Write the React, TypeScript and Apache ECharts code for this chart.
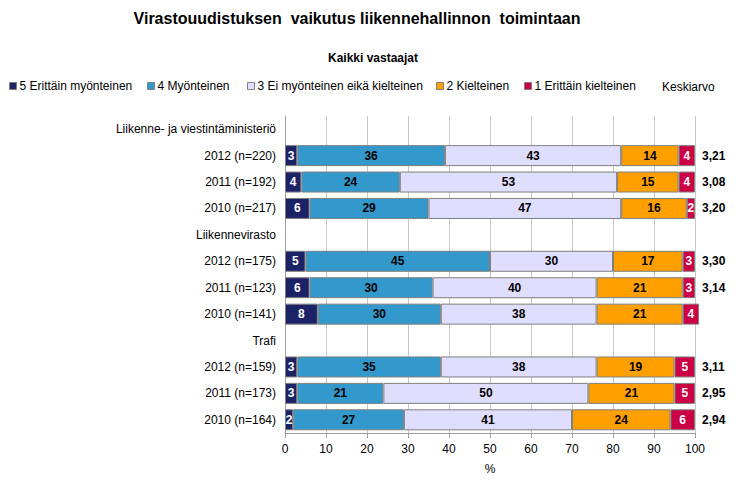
import React, { useEffect, useRef } from "react";
import * as echarts from "echarts";

const categories = [
  "Liikenne- ja viestintäministeriö",
  "2012 (n=220)",
  "2011 (n=192)",
  "2010 (n=217)",
  "Liikennevirasto",
  "2012 (n=175)",
  "2011 (n=123)",
  "2010 (n=141)",
  "Trafi",
  "2012 (n=159)",
  "2011 (n=173)",
  "2010 (n=164)",
];

const seriesNames = [
  "5 Erittäin myönteinen",
  "4 Myönteinen",
  "3 Ei myönteinen eikä kielteinen",
  "2 Kielteinen",
  "1 Erittäin kielteinen",
];

const v5 = [null, 3, 4, 6, null, 5, 6, 8, null, 3, 3, 2];
const v4 = [null, 36, 24, 29, null, 45, 30, 30, null, 35, 21, 27];
const v3 = [null, 43, 53, 47, null, 30, 40, 38, null, 38, 50, 41];
const v2 = [null, 14, 15, 16, null, 17, 21, 21, null, 19, 21, 24];
const v1 = [null, 4, 4, 2, null, 3, 3, 4, null, 5, 5, 6];

const means = ["", "3,21", "3,08", "3,20", "", "3,30", "3,14", "", "", "3,11", "2,95", "2,94"];

const xTicks = [0, 10, 20, 30, 40, 50, 60, 70, 80, 90, 100];

const colors = ["#1c2266", "#3399cc", "#e0deff", "#ffa000", "#cc0044"];
const labelColors = ["#ffffff", "#000000", "#000000", "#000000", "#ffffff"];
const legendLefts = [9, 147, 247, 436, 524];

const FONT = "'Liberation Sans', Arial, sans-serif";

export default function App() {
  const ref = useRef<HTMLDivElement>(null);
  useEffect(() => {
    if (!ref.current) return;
    const chart = echarts.init(ref.current, undefined, { renderer: "svg" });
    const values = [v5, v4, v3, v2, v1];
    chart.setOption({
      animation: false,
      textStyle: { fontFamily: FONT },
      graphic: [
        {
          type: "text",
          x: 357,
          y: 18,
          style: {
            text: "Virastouudistuksen  vaikutus liikennehallinnon  toimintaan",
            font: "bold 16px " + FONT,
            fill: "#000",
            textAlign: "center",
            textVerticalAlign: "middle",
          },
        },
        {
          type: "text",
          x: 373,
          y: 58,
          style: {
            text: "Kaikki vastaajat",
            font: "bold 12px " + FONT,
            fill: "#000",
            textAlign: "center",
            textVerticalAlign: "middle",
          },
        },
        {
          type: "text",
          x: 662,
          y: 87,
          style: {
            text: "Keskiarvo",
            font: "12px " + FONT,
            fill: "#000",
            textAlign: "left",
            textVerticalAlign: "middle",
          },
        },
      ],
      legend: seriesNames.map((name, i) => ({
        left: legendLefts[i],
        top: 80,
        padding: 0,
        itemWidth: 7,
        itemHeight: 7,
        icon: "rect",
        itemStyle: { borderColor: "#808080", borderWidth: 1 },
        textStyle: { fontSize: 12, color: "#000", fontFamily: FONT, padding: [0, 0, 0, -2] },
        data: [name],
      })),
      grid: { left: 285, right: 43, top: 116, bottom: 50, containLabel: false },
      xAxis: {
        type: "value",
        min: 0,
        max: 100,
        interval: 10,
        name: "%",
        nameLocation: "middle",
        nameGap: 30,
        nameTextStyle: { fontSize: 12, color: "#000", fontFamily: FONT },
        axisLine: { show: true, lineStyle: { color: "#a0a0a0" } },
        axisTick: { show: true, length: 5, lineStyle: { color: "#a0a0a0" } },
        axisLabel: {
          fontSize: 12,
          color: "#000",
          margin: 10,
          formatter: (v: number) => (xTicks.includes(v) ? String(v) : ""),
        },
        splitLine: { show: true, lineStyle: { color: "#c8c8c8", width: 1 } },
      },
      yAxis: [
        {
          type: "category",
          inverse: true,
          data: categories,
          axisLine: { show: true, lineStyle: { color: "#a0a0a0" } },
          axisTick: { show: false },
          axisLabel: { fontSize: 12, color: "#000", margin: 9 },
        },
        {
          type: "category",
          inverse: true,
          position: "right",
          data: categories,
          axisLine: { show: false },
          axisTick: { show: false },
          axisLabel: {
            fontSize: 12,
            color: "#000",
            fontWeight: "bold",
            margin: 7,
            formatter: (_v: string, i: number) => means[i],
          },
        },
      ],
      series: seriesNames.map((name, i) => ({
        name,
        type: "bar",
        stack: "total",
        barWidth: 21,
        clip: false,
        data: values[i],
        itemStyle: { color: colors[i], borderColor: "#7f7f7f", borderWidth: 1 },
        label: {
          show: true,
          position: "inside",
          color: labelColors[i],
          fontSize: 12,
          fontWeight: "bold",
          fontFamily: FONT,
          formatter: (p: any) => (p.value == null ? "" : String(p.value)),
        },
      })),
    });
    return () => chart.dispose();
  }, []);
  return (
    <div
      ref={ref}
      style={{ position: "fixed", left: 0, top: 0, width: 738, height: 483, background: "#fff" }}
    />
  );
}
